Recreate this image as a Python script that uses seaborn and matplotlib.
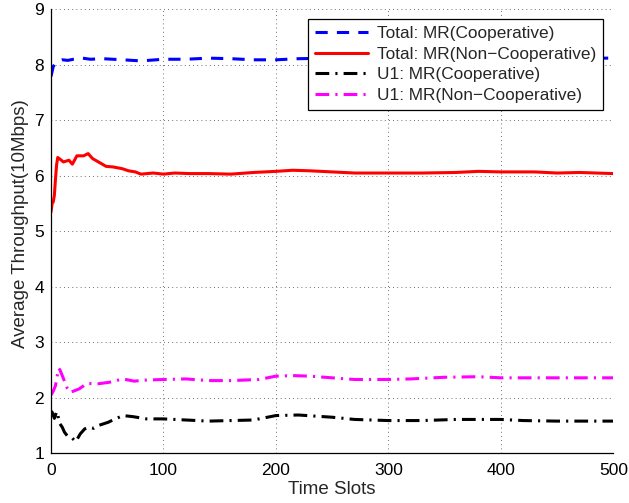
import matplotlib
matplotlib.use("Agg")
import matplotlib.pyplot as plt
import seaborn as sns
import pandas as pd

# ---- data ----
total_coop_x = [0, 2, 5, 10, 15, 20, 28, 35, 46, 55, 64, 80, 100, 120, 140, 160, 180, 200,
                220, 250, 280, 300, 330, 360, 400, 430, 460, 500]
total_coop_y = [7.79, 7.97, 8.05, 8.09, 8.08, 8.10, 8.12, 8.10, 8.11, 8.10, 8.09, 8.07, 8.10,
                8.10, 8.12, 8.11, 8.09, 8.09, 8.11, 8.12, 8.11, 8.11, 8.12, 8.12, 8.12, 8.12,
                8.12, 8.12]

total_noncoop_x = [0, 1, 2, 3, 4, 5, 6, 8, 11, 16, 19, 23, 29, 33, 37, 43, 49, 55, 63, 69,
                   75, 80, 91, 100, 110, 123, 140, 160, 180, 200, 215, 230, 250, 270, 300,
                   330, 360, 380, 400, 430, 450, 470, 500]
total_noncoop_y = [5.35, 5.50, 5.53, 5.65, 5.95, 6.20, 6.33, 6.30, 6.25, 6.28, 6.21, 6.36,
                   6.36, 6.40, 6.31, 6.24, 6.17, 6.16, 6.13, 6.09, 6.07, 6.03, 6.05, 6.03,
                   6.05, 6.04, 6.04, 6.03, 6.06, 6.08, 6.10, 6.09, 6.07, 6.05, 6.05, 6.05,
                   6.06, 6.08, 6.07, 6.07, 6.05, 6.06, 6.04]

u1_coop_x = [0, 1, 3, 5, 6, 7, 10, 12, 15, 19, 22, 26, 30, 34, 38, 42, 51, 55, 64, 73, 85,
             100, 120, 140, 160, 180, 200, 220, 250, 270, 300, 330, 360, 400, 420, 450, 500]
u1_coop_y = [1.76, 1.74, 1.63, 1.75, 1.72, 1.56, 1.47, 1.38, 1.30, 1.27, 1.21, 1.35, 1.44,
             1.47, 1.45, 1.50, 1.56, 1.60, 1.68, 1.66, 1.62, 1.62, 1.60, 1.58, 1.59, 1.60,
             1.68, 1.69, 1.65, 1.61, 1.59, 1.59, 1.61, 1.61, 1.59, 1.58, 1.58]

u1_noncoop_x = [0, 2, 4, 6, 7, 8, 10, 12, 14.5, 17, 20, 25, 32, 41, 52, 64, 74, 85, 100, 120,
                140, 160, 185, 200, 215, 230, 250, 270, 300, 320, 350, 380, 400, 430, 460, 500]
u1_noncoop_y = [2.05, 2.12, 2.22, 2.45, 2.53, 2.50, 2.40, 2.30, 2.17, 2.10, 2.12, 2.16, 2.26,
                2.25, 2.28, 2.34, 2.30, 2.32, 2.33, 2.34, 2.31, 2.31, 2.33, 2.39, 2.40, 2.39,
                2.36, 2.33, 2.33, 2.34, 2.37, 2.38, 2.36, 2.36, 2.36, 2.36]

labels = ["Total: MR(Cooperative)", "Total: MR(Non\u2212Cooperative)",
          "U1: MR(Cooperative)", "U1: MR(Non\u2212Cooperative)"]
xticks = [0, 100, 200, 300, 400, 500]
yticks = [1, 2, 3, 4, 5, 6, 7, 8, 9]

# ---- style ----
sns.set_style("white")
plt.rcParams["font.family"] = ["Liberation Sans", "DejaVu Sans"]
plt.rcParams["font.size"] = 12

fig = plt.figure(figsize=(6.29, 5.03), dpi=100)
ax = fig.add_axes([51 / 629, 1 - 453.3 / 503, (613.3 - 51) / 629, (453.3 - 9.3) / 503])

series = [
    (total_coop_x, total_coop_y, labels[0], "#0000ff", (0, (4, 3))),
    (total_noncoop_x, total_noncoop_y, labels[1], "#ff0000", "-"),
    (u1_coop_x, u1_coop_y, labels[2], "#000000", (0, (4.5, 2, 0.7, 2))),
    (u1_noncoop_x, u1_noncoop_y, labels[3], "#ff00ff", (0, (4.5, 2, 0.7, 2))),
]
for xs, ys, lab, col, ls in series:
    df = pd.DataFrame({"x": xs, "y": ys})
    sns.lineplot(data=df, x="x", y="y", ax=ax, color=col, linestyle=ls,
                 linewidth=2.2, label=lab, estimator=None, sort=False)

ax.set_xlim(0, 500)
ax.set_ylim(1, 9)
ax.set_xticks(xticks)
ax.set_yticks(yticks)
ax.grid(True, color="0.25", linestyle=(0, (1, 4)), linewidth=0.6)
ax.set_axisbelow(True)
for s in ["top", "right"]:
    ax.spines[s].set_visible(False)
for s in ["left", "bottom"]:
    ax.spines[s].set_color("black")
    ax.spines[s].set_linewidth(0.9)
ax.tick_params(direction="in", length=3.5, width=0.6, colors="black",
               labelsize=12.5, pad=5)
ax.tick_params(axis="x", pad=7)
ax.set_xlabel("Time Slots", fontsize=13.5, labelpad=2)
ax.set_ylabel("Average Throughput(10Mbps)", fontsize=13.5, labelpad=4)
ax.yaxis.label.set_y(0.518)

leg = ax.legend(loc="upper right", bbox_to_anchor=(602.7 / 629, 1 - 19 / 503),
                bbox_transform=fig.transFigure, borderaxespad=0, fontsize=12.4,
                frameon=True, fancybox=False, framealpha=1, edgecolor="black",
                handlelength=3.1, handletextpad=0.5, labelspacing=0.33,
                borderpad=0.4)
leg.get_frame().set_linewidth(0.9)

fig.savefig("out.png", dpi=100)
